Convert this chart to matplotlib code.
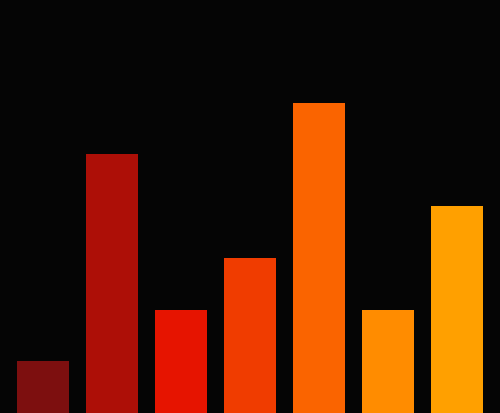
import matplotlib
matplotlib.use("Agg")
import matplotlib.pyplot as plt

categories = ["A", "B", "C", "D", "E", "F", "G"]
values = [1, 5, 2, 3, 6, 2, 4]
colors = ["#7d0f0f", "#ad0f07", "#e61400", "#f03c00", "#fa6400", "#ff8c00", "#ffa000"]

fig = plt.figure(figsize=(5.0, 4.14), dpi=100)
fig.patch.set_facecolor("#050505")
ax = fig.add_axes([0, 0, 1, 1])
ax.set_facecolor("#050505")
x = list(range(len(categories)))
ax.bar(x, values, width=0.75, color=colors, linewidth=0)
ax.set_xlim(-0.623, 6.623)
ax.set_ylim(0, 8)
ax.axis("off")
fig.savefig("out.png", dpi=100, facecolor=fig.get_facecolor())
